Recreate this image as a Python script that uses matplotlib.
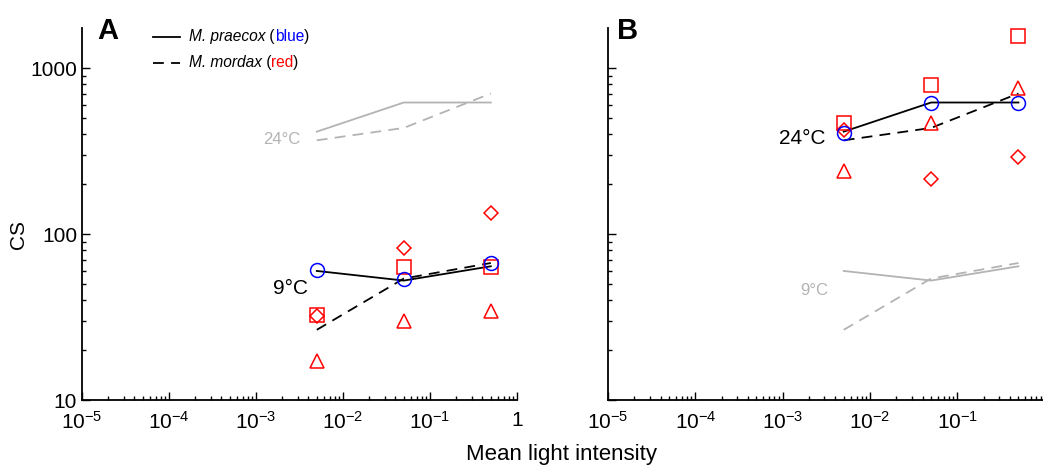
import numpy as np
import matplotlib
matplotlib.use("Agg")
import matplotlib.pyplot as plt
from matplotlib.ticker import LogLocator, FuncFormatter, NullFormatter

plt.rcParams['font.family'] = ['Liberation Sans', 'DejaVu Sans']
plt.rcParams['mathtext.fontset'] = 'custom'
plt.rcParams['mathtext.rm'] = 'Liberation Sans'
plt.rcParams['mathtext.it'] = 'Liberation Sans:italic'

# light intensity levels
light = [0.005, 0.05, 0.5]

# mean CS lines
praecox_9 = [60, 52.5, 64]
mordax_9 = [26.5, 54, 67]
praecox_24 = [415, 622, 622]
mordax_24 = [368, 437, 705]

# individual fish, 9 deg C
circ_9 = [61, 54, 67]
sq_9 = [32.5, 63.5, 63.5]
dia_9 = [32, 83, 134]
tri_9 = [17.3, 30, 34.5]

# individual fish, 24 deg C
circ_24 = [408, 618, 618]
sq_24 = [469, 795, 1563]
dia_24 = [427, 215, 290]
tri_24 = [240, 467, 762]

gray = '#b3b3b3'

fig = plt.figure(figsize=(10.43, 4.66), dpi=100)
axA = fig.add_axes([82/1043, 66/466, 435/1043, 372/466])
axB = fig.add_axes([608/1043, 66/466, 435/1043, 372/466])


def xfmt(v, pos):
    e = int(round(np.log10(v)))
    if e == 0:
        return '1'
    return r'$10^{%d}$' % e


def style(ax, xmax, ylabels):
    ax.set_xscale('log')
    ax.set_yscale('log')
    ax.set_xlim(1e-5, xmax)
    ax.set_ylim(10, 1750)
    for s in ['top', 'right']:
        ax.spines[s].set_visible(False)
    for s in ['left', 'bottom']:
        ax.spines[s].set_linewidth(1.3)
    ax.xaxis.set_major_locator(LogLocator(base=10, numticks=10))
    ax.xaxis.set_minor_locator(LogLocator(base=10, subs=np.arange(2, 10), numticks=10))
    ax.xaxis.set_major_formatter(FuncFormatter(xfmt))
    ax.xaxis.set_minor_formatter(NullFormatter())
    ax.yaxis.set_major_locator(LogLocator(base=10, numticks=10))
    ax.yaxis.set_minor_locator(LogLocator(base=10, subs=np.arange(2, 10), numticks=10))
    ax.yaxis.set_minor_formatter(NullFormatter())
    if ylabels:
        ax.yaxis.set_major_formatter(FuncFormatter(lambda v, p: '%d' % v))
    else:
        ax.yaxis.set_major_formatter(NullFormatter())
    ax.tick_params(which='both', direction='in', labelsize=15, width=1)
    ax.tick_params(which='major', length=6)
    ax.tick_params(which='minor', length=3)
    ax.tick_params(axis='x', which='major', pad=8)


def points(ax, c, s, d, t):
    ms = 10
    ax.plot(light, s, 's', ms=ms, mfc='none', mec='red', mew=1.1)
    ax.plot(light, d, 'D', ms=7.5, mfc='none', mec='red', mew=1.1)
    ax.plot(light, t, '^', ms=ms, mfc='none', mec='red', mew=1.1)
    ax.plot(light, c, 'o', ms=ms, mfc='none', mec='blue', mew=1.1)


# panel A: 9 deg C highlighted
style(axA, 1, True)
axA.plot(light, praecox_24, '-', color=gray, lw=1.3)
axA.plot(light, mordax_24, '--', color=gray, lw=1.3, dashes=(6, 4))
axA.plot(light, praecox_9, '-', color='black', lw=1.3)
axA.plot(light, mordax_9, '--', color='black', lw=1.3, dashes=(6, 4))
points(axA, circ_9, sq_9, dia_9, tri_9)
axA.text(0.0032, 370, '24°C', color=gray, fontsize=12, ha='right', va='center')
axA.text(0.004, 47, '9°C', color='black', fontsize=15, ha='right', va='center')
axA.set_ylabel('CS', fontsize=15)
axA.yaxis.set_label_coords(-0.124, 0.444)
axA.text(0.035, 1.03, 'A', transform=axA.transAxes, fontsize=21, fontweight='bold',
         ha='left', va='top')

# legend with coloured words
for yy, ls, name, col, word in [(0.977, '-', 'M. praecox', 'blue', 'blue'),
                                (0.907, '--', 'M. mordax', 'red', 'red')]:
    axA.plot([0.163, 0.225], [yy, yy], ls, color='black', lw=1.3,
             transform=axA.transAxes, dashes=(6, 4) if ls == '--' else (None, None))
    t1 = axA.text(0.245, yy, name, style='italic', fontsize=11.2, va='center',
                  transform=axA.transAxes)
    t2 = axA.annotate(' (', xy=(1, 0), xycoords=t1, va='bottom', fontsize=11.2)
    t3 = axA.annotate(word, xy=(1, 0), xycoords=t2, va='bottom', fontsize=11.2, color=col)
    axA.annotate(')', xy=(1, 0), xycoords=t3, va='bottom', fontsize=11.2)

# panel B: 24 deg C highlighted
style(axB, 10**-0.02, False)
axB.plot(light, praecox_9, '-', color=gray, lw=1.3)
axB.plot(light, mordax_9, '--', color=gray, lw=1.3, dashes=(6, 4))
axB.plot(light, praecox_24, '-', color='black', lw=1.3)
axB.plot(light, mordax_24, '--', color='black', lw=1.3, dashes=(6, 4))
points(axB, circ_24, sq_24, dia_24, tri_24)
axB.text(0.0031, 375, '24°C', color='black', fontsize=15, ha='right', va='center')
axB.text(0.0033, 46, '9°C', color=gray, fontsize=12, ha='right', va='center')
axB.text(0.021, 1.03, 'B', transform=axB.transAxes, fontsize=21, fontweight='bold',
         ha='left', va='top')

fig.text(0.538, 0.012, 'Mean light intensity', fontsize=16, ha='center', va='baseline')

fig.savefig('out.png', dpi=100)
